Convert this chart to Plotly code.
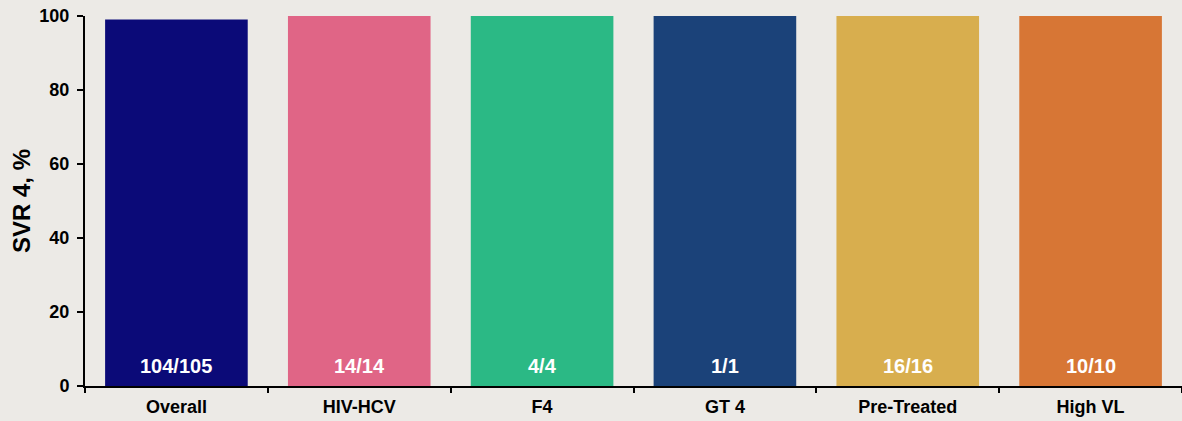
import plotly.graph_objects as go

categories = ["Overall", "HIV-HCV", "F4", "GT 4", "Pre-Treated", "High VL"]
responders = [104, 14, 4, 1, 16, 10]
totals = [105, 14, 4, 1, 16, 10]
svr_pct = [round(r / t * 100, 2) for r, t in zip(responders, totals)]
bar_labels = [f"{r}/{t}" for r, t in zip(responders, totals)]
bar_colors = ["#0B0A78", "#E06586", "#2BB985", "#1B4279", "#D8AE4E", "#D77635"]
y_ticks = [0, 20, 40, 60, 80, 100]

FONT = "Liberation Sans, Arial, sans-serif"

fig = go.Figure()
fig.add_trace(go.Bar(
    x=categories,
    y=svr_pct,
    marker=dict(color=bar_colors, line=dict(width=0)),
    width=0.78,
    hoverinfo="skip",
))

# n/N counts drawn in white just above each bar's base
for cat, lbl in zip(categories, bar_labels):
    fig.add_annotation(
        x=cat, y=0, text=f"<b>{lbl}</b>", showarrow=False,
        yanchor="bottom", yshift=7,
        font=dict(family=FONT, size=20, color="white"),
    )

fig.update_layout(
    width=1182, height=421,
    margin=dict(l=85, r=0, t=16, b=35),
    paper_bgcolor="#ECEAE6",
    plot_bgcolor="rgba(0,0,0,0)",
    showlegend=False,
    font=dict(family=FONT, color="black"),
)
fig.update_xaxes(
    showline=True, linecolor="black", linewidth=2,
    ticks="outside", tickson="boundaries", ticklen=5, tickwidth=2, tickcolor="black",
    tickfont=dict(size=18, family=FONT),
    tickprefix="<b>", ticksuffix="</b>",
    ticklabelstandoff=3,
    showgrid=False, zeroline=False,
)
fig.update_yaxes(
    range=[0, 100],
    tickvals=y_ticks,
    ticktext=[f"<b>{v}</b>" for v in y_ticks],
    showline=True, linecolor="black", linewidth=2,
    ticks="outside", ticklen=6, tickwidth=2, tickcolor="black",
    tickfont=dict(size=18, family=FONT),
    ticklabelstandoff=4,
    title=dict(text="<b>SVR 4, %</b>", font=dict(size=24, family=FONT), standoff=2),
    showgrid=False, zeroline=False,
)

fig.write_html("out.html")
